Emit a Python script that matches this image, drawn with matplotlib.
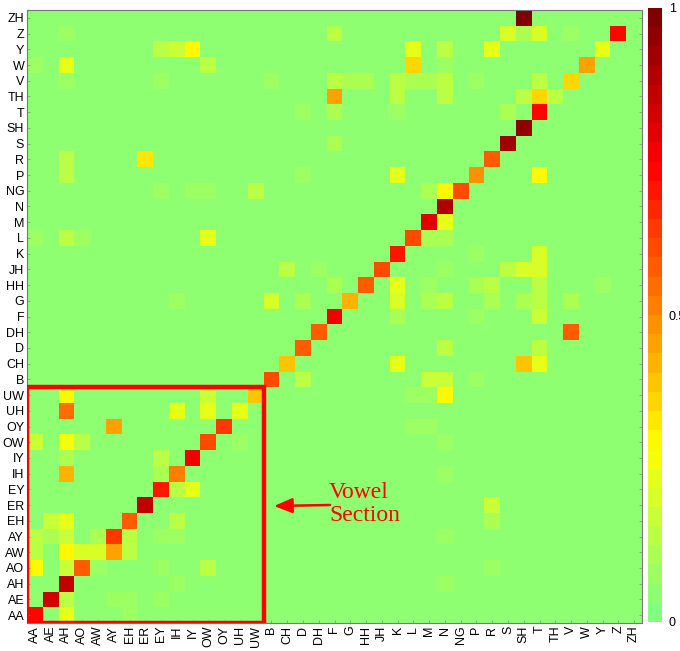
import numpy as np
import matplotlib
matplotlib.use("Agg")
import matplotlib.pyplot as plt
from matplotlib.colors import LinearSegmentedColormap, Normalize
from matplotlib.patches import Rectangle
import matplotlib.cm as mcm

# phone labels, bottom-to-top on y, left-to-right on x
phones = ["AA", "AE", "AH", "AO", "AW", "AY", "EH", "ER", "EY", "IH", "IY",
          "OW", "OY", "UH", "UW", "B", "CH", "D", "DH", "F", "G", "HH", "JH",
          "K", "L", "M", "N", "NG", "P", "R", "S", "SH", "T", "TH", "V", "W",
          "Y", "Z", "ZH"]
vowels = phones[:15]

# non-zero cells: (row phone, column phone, value)
cells = [
    ("ZH", "SH", 0.97),
    ("Z", "AH", 0.04), ("Z", "F", 0.10), ("Z", "S", 0.16), ("Z", "SH", 0.08),
    ("Z", "T", 0.16), ("Z", "V", 0.05), ("Z", "Z", 0.72),
    ("Y", "EY", 0.10), ("Y", "IH", 0.15), ("Y", "IY", 0.28), ("Y", "L", 0.20),
    ("Y", "N", 0.12), ("Y", "R", 0.20), ("Y", "Y", 0.20),
    ("W", "AA", 0.05), ("W", "AH", 0.20), ("W", "OW", 0.12), ("W", "L", 0.33),
    ("W", "N", 0.05), ("W", "W", 0.43),
    ("V", "AH", 0.04), ("V", "EY", 0.05), ("V", "B", 0.05), ("V", "F", 0.12),
    ("V", "G", 0.07), ("V", "HH", 0.07), ("V", "K", 0.12), ("V", "L", 0.08),
    ("V", "M", 0.08), ("V", "N", 0.12), ("V", "P", 0.06), ("V", "T", 0.10),
    ("V", "V", 0.35),
    ("TH", "F", 0.42), ("TH", "K", 0.12), ("TH", "N", 0.10), ("TH", "SH", 0.10),
    ("TH", "T", 0.35), ("TH", "TH", 0.12),
    ("T", "D", 0.05), ("T", "F", 0.08), ("T", "K", 0.06), ("T", "S", 0.08),
    ("T", "T", 0.74),
    ("SH", "SH", 0.95),
    ("S", "F", 0.07), ("S", "S", 0.93),
    ("R", "AH", 0.12), ("R", "ER", 0.32), ("R", "R", 0.55),
    ("P", "AH", 0.12), ("P", "D", 0.05), ("P", "K", 0.20), ("P", "P", 0.46),
    ("P", "T", 0.27),
    ("NG", "EY", 0.05), ("NG", "IY", 0.06), ("NG", "OW", 0.06), ("NG", "UW", 0.12),
    ("NG", "M", 0.07), ("NG", "N", 0.27), ("NG", "NG", 0.58),
    ("N", "N", 0.90),
    ("M", "M", 0.80), ("M", "N", 0.20),
    ("L", "AA", 0.06), ("L", "AH", 0.12), ("L", "AO", 0.06), ("L", "OW", 0.20),
    ("L", "L", 0.60), ("L", "M", 0.07), ("L", "N", 0.07),
    ("K", "K", 0.70), ("K", "P", 0.06), ("K", "T", 0.18),
    ("JH", "CH", 0.12), ("JH", "DH", 0.06), ("JH", "JH", 0.60), ("JH", "N", 0.06),
    ("JH", "S", 0.12), ("JH", "SH", 0.16), ("JH", "T", 0.18),
    ("HH", "F", 0.08), ("HH", "HH", 0.57), ("HH", "K", 0.20), ("HH", "M", 0.06),
    ("HH", "P", 0.07), ("HH", "R", 0.12), ("HH", "T", 0.10), ("HH", "Y", 0.06),
    ("G", "IH", 0.06), ("G", "B", 0.18), ("G", "D", 0.07), ("G", "G", 0.40),
    ("G", "K", 0.18), ("G", "M", 0.07), ("G", "N", 0.12), ("G", "R", 0.08),
    ("G", "SH", 0.08), ("G", "T", 0.12), ("G", "V", 0.07),
    ("F", "F", 0.76), ("F", "K", 0.07), ("F", "P", 0.05), ("F", "T", 0.15),
    ("DH", "DH", 0.56), ("DH", "V", 0.56),
    ("D", "D", 0.57), ("D", "N", 0.10), ("D", "T", 0.12),
    ("CH", "CH", 0.38), ("CH", "K", 0.22), ("CH", "SH", 0.38), ("CH", "T", 0.22),
    ("B", "B", 0.58), ("B", "D", 0.12), ("B", "M", 0.14), ("B", "N", 0.14),
    ("B", "P", 0.06),
    ("UW", "AH", 0.28), ("UW", "OW", 0.15), ("UW", "UW", 0.37), ("UW", "L", 0.06),
    ("UW", "M", 0.06), ("UW", "N", 0.28),
    ("UH", "AH", 0.54), ("UH", "IH", 0.22), ("UH", "OW", 0.22), ("UH", "UH", 0.22),
    ("OY", "AY", 0.42), ("OY", "OY", 0.62), ("OY", "L", 0.05), ("OY", "M", 0.05),
    ("OW", "AA", 0.15), ("OW", "AH", 0.25), ("OW", "AO", 0.10), ("OW", "OW", 0.58),
    ("OW", "UH", 0.06), ("OW", "N", 0.05),
    ("IY", "AH", 0.08), ("IY", "EY", 0.12), ("IY", "IY", 0.76),
    ("IH", "AH", 0.40), ("IH", "EY", 0.07), ("IH", "IH", 0.50), ("IH", "N", 0.05),
    ("EY", "EY", 0.70), ("EY", "IH", 0.12), ("EY", "IY", 0.20),
    ("ER", "ER", 0.85), ("ER", "R", 0.15),
    ("EH", "AE", 0.15), ("EH", "AH", 0.20), ("EH", "EH", 0.57), ("EH", "IH", 0.10),
    ("EH", "R", 0.08),
    ("AY", "AA", 0.12), ("AY", "AE", 0.07), ("AY", "AH", 0.15), ("AY", "AW", 0.07),
    ("AY", "AY", 0.62), ("AY", "EH", 0.10), ("AY", "EY", 0.06), ("AY", "IH", 0.06),
    ("AY", "N", 0.05),
    ("AW", "AA", 0.12), ("AW", "AH", 0.27), ("AW", "AO", 0.17), ("AW", "AW", 0.17),
    ("AW", "AY", 0.44), ("AW", "EH", 0.12),
    ("AO", "AA", 0.27), ("AO", "AH", 0.15), ("AO", "AO", 0.55), ("AO", "AW", 0.06),
    ("AO", "EY", 0.05), ("AO", "OW", 0.12), ("AO", "R", 0.06),
    ("AH", "AH", 0.85), ("AH", "IH", 0.06), ("AH", "N", 0.05),
    ("AE", "AE", 0.83), ("AE", "AH", 0.10), ("AE", "AY", 0.05), ("AE", "EH", 0.06),
    ("AE", "EY", 0.05),
    ("AA", "AA", 0.74), ("AA", "AH", 0.22), ("AA", "EH", 0.06),
]

n = len(phones)
idx = {p: i for i, p in enumerate(phones)}
M = np.zeros((n, n))
for r, c, v in cells:
    M[idx[r], idx[c]] = v

# green -> yellow -> red -> dark red, 32 steps
cmap = LinearSegmentedColormap.from_list(
    "gyr", [(0.0, (0.5, 1.0, 0.5)), (0.28, (1.0, 1.0, 0.0)),
            (0.75, (1.0, 0.0, 0.0)), (1.0, (0.5, 0.0, 0.0))], N=32)

W, H = 680, 651
fig = plt.figure(figsize=(W / 100, H / 100), dpi=100)
ax = fig.add_axes([27 / W, (H - 623) / H, 615 / W, 613 / H])

ax.imshow(M, cmap=cmap, vmin=-0.035, vmax=1, origin="lower",
          interpolation="nearest", aspect="auto",
          extent=(-0.5, n - 0.5, -0.5, n - 0.5))

ax.set_xticks(np.arange(n))
ax.set_yticks(np.arange(n))
ax.set_xticklabels(phones, rotation=90, fontsize=9, family="Liberation Sans")
ax.set_yticklabels(phones, fontsize=9, family="Liberation Sans")
ax.tick_params(direction="in", length=2, width=0.5, color="#888888",
               right=True, top=False, pad=2)
for s in ax.spines.values():
    s.set_color("#777777")
    s.set_linewidth(0.8)

# vowel box
ax.add_patch(Rectangle((-0.5, -0.5), len(vowels), len(vowels), fill=False,
                       edgecolor="red", linewidth=3.2, zorder=5))

# annotation
ax.annotate("", xy=(274, H - 506), xycoords="figure pixels",
            xytext=(330, H - 505), textcoords="figure pixels",
            arrowprops=dict(arrowstyle="-|>,head_length=1.1,head_width=0.45",
                            color="red", lw=1.8, shrinkA=0, shrinkB=0))
fig.text(329 / W, (H - 504) / H, "Vowel\nSection", color="red",
         fontsize=17, family="Liberation Serif", ha="left", va="center",
         linespacing=1.1)

# colorbar
cax = fig.add_axes([648 / W, (H - 622) / H, 14 / W, 614 / H])
sm = mcm.ScalarMappable(norm=Normalize(0, 1), cmap=cmap)
cb = fig.colorbar(sm, cax=cax, ticks=[0, 0.5, 1])
cb.ax.set_yticklabels(["0", "0.5", "1"], family="Liberation Sans", fontsize=9)
cb.ax.tick_params(length=0, pad=5)
cb.outline.set_visible(False)

fig.savefig("out.png", dpi=100)
